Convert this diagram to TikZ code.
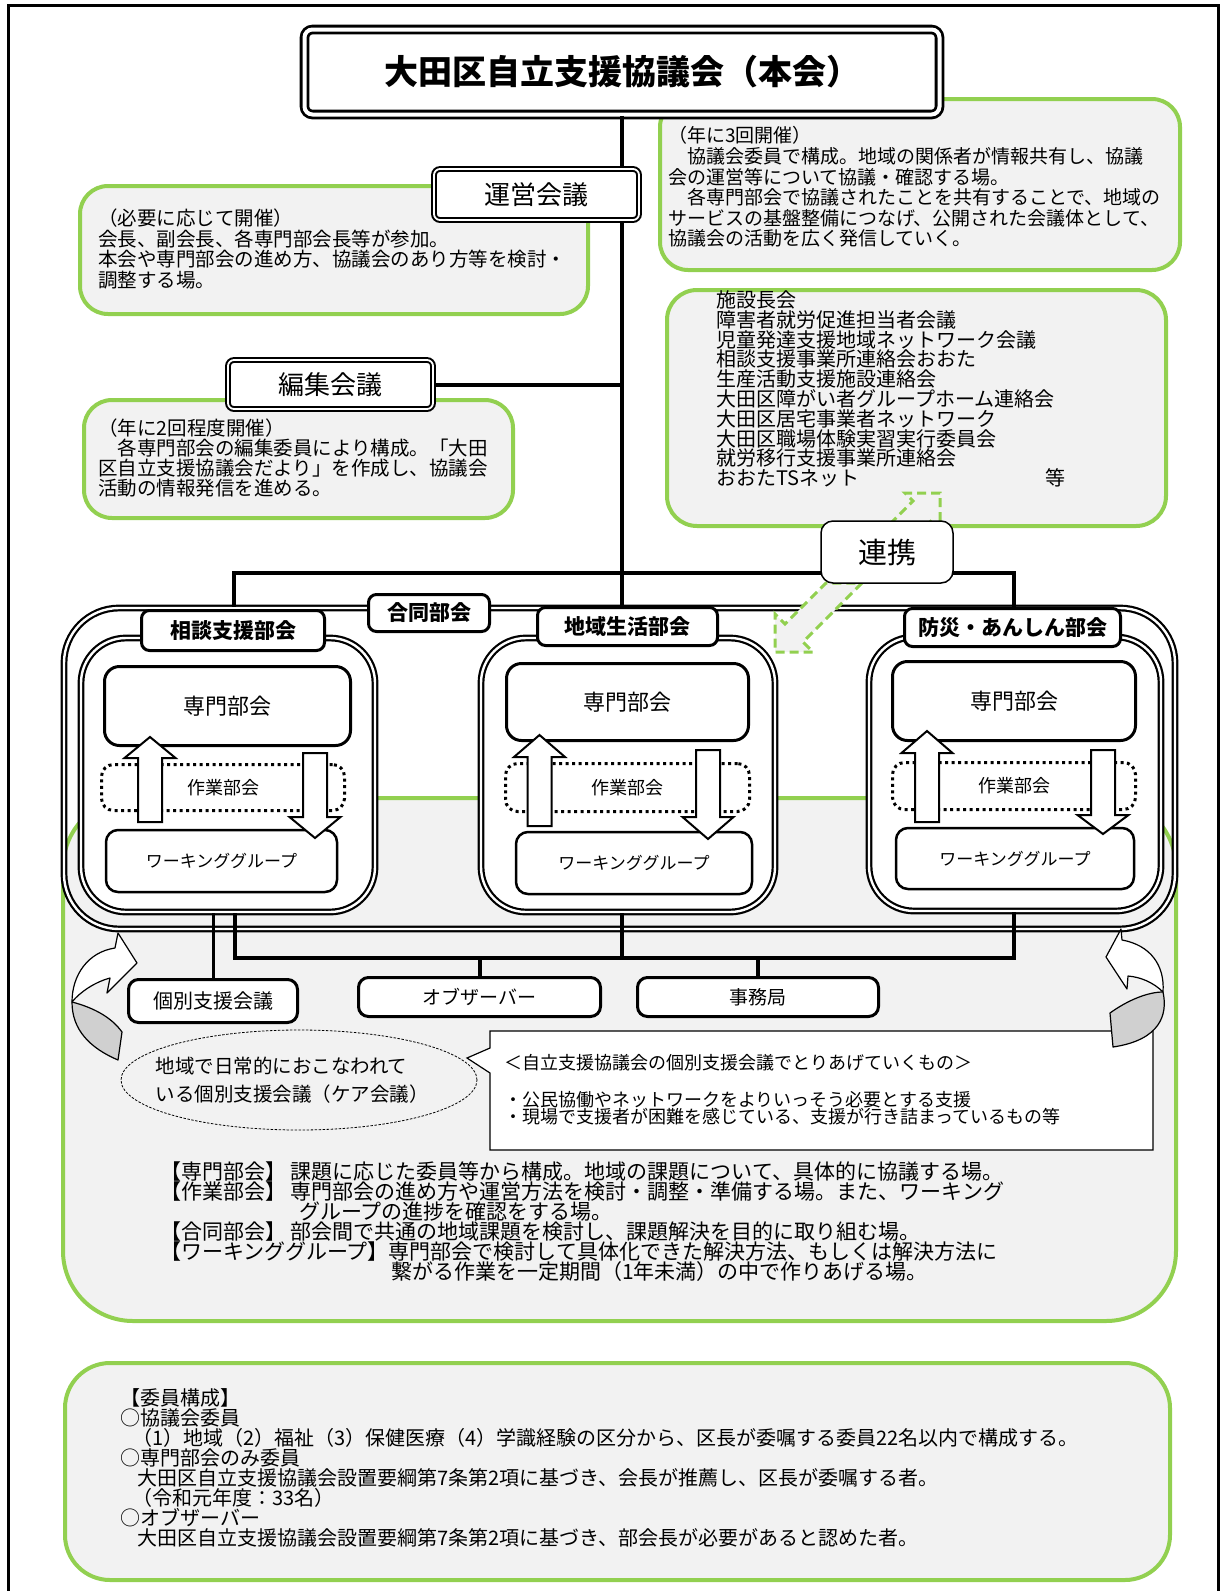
\documentclass[tikz,border=0pt]{standalone}
\usepackage{fontspec}
\setmainfont{Noto Sans CJK JP}
\usetikzlibrary{shapes.geometric}
\definecolor{leafgreen}{HTML}{92D050}
\definecolor{notegray}{HTML}{F2F2F2}
\definecolor{twistgray}{HTML}{D0D0D0}
\newcommand{\fsz}[2]{\fontsize{#1pt}{#2pt}\selectfont}
\newcommand{\blockup}[4]{\draw[blockarrow] (#1-12,#4) -- (#1-12,#3) -- (#1-25.5,#3) -- (#1,#2) -- (#1+25.5,#3) -- (#1+12,#3) -- (#1+12,#4) -- cycle;}
\newcommand{\blockdown}[4]{\draw[blockarrow] (#1-12,#2) -- (#1-12,#3) -- (#1-25.5,#3) -- (#1,#4) -- (#1+25.5,#3) -- (#1+12,#3) -- (#1+12,#2) -- cycle;}

\tikzset{
    greenbox/.style={draw=leafgreen, line width=4pt, fill=notegray, rounded corners=28pt, inner sep=0pt},
    dblbox/.style={draw=black, line width=2pt, double=white, double distance=1.8pt, fill=white, rounded corners=6pt, inner sep=0pt},
    groupframe/.style={draw=black, line width=2.2pt, double=white, double distance=2.4pt, fill=white, rounded corners=45pt, inner sep=0pt},
    tabbox/.style={draw, line width=3pt, fill=white, rounded corners=8pt, inner sep=0pt, font=\fsz{21}{24}\bfseries},
    unitbox/.style={draw, line width=3pt, fill=white, rounded corners=15pt, inner sep=0pt, font=\fsz{22}{24}},
    dotbox/.style={draw, line width=3pt, dash pattern=on 3pt off 3.5pt, rounded corners=12pt, inner sep=0pt, font=\fsz{18}{20}},
    wgbox/.style={draw, line width=2.5pt, fill=white, rounded corners=12pt, inner sep=0pt, font=\fsz{17}{20}},
    lowbox/.style={draw, line width=3pt, fill=white, rounded corners=10pt, inner sep=0pt, font=\fsz{19}{22}},
    trunk/.style={line width=4pt},
    blockarrow/.style={draw, line width=2pt, fill=white, line join=miter},
    linkarrow/.style={draw=leafgreen, line width=3pt, dash pattern=on 9pt off 5pt, fill=notegray},
    twist/.style={draw, line width=1.2pt, line join=round},
    notetext/.style={anchor=west, inner sep=0pt, align=left},
}

\begin{document}
\begin{tikzpicture}[x=1pt, y=-1pt]

            \useasboundingbox (0,0) rectangle (1223,1591);
            \draw[line width=3pt] (8,5) rectangle (1218,1600);

            % notes round the council
            \node[greenbox, minimum width=508pt, minimum height=128pt] (opsnote) at (334,250) {};
            \node[greenbox, minimum width=520pt, minimum height=171pt] (mainnote) at (920,184.5) {};
            \node[greenbox, minimum width=429pt, minimum height=118pt] (editnote) at (298.5,459) {};
            \node[greenbox, minimum width=499pt, minimum height=236pt, rounded corners=30pt] (linkbox) at (916.5,408) {};
            \node[greenbox, minimum width=1113pt, minimum height=523pt, rounded corners=70pt] (termbox) at (619.5,1059.5) {};
            \node[greenbox, minimum width=1105pt, minimum height=217pt, rounded corners=45pt] (memberbox) at (617.5,1471.5) {};

            \node[notetext, font=\fsz{19.5}{20.5}] (opstext) at (98,249) {（必要に応じて開催）\\会長、副会長、各専門部会長等が参加。\\本会や専門部会の進め方、協議会のあり方等を検討・\\調整する場。};
            \node[notetext, font=\fsz{19}{20.6}] (maintext) at (668,187) {（年に3回開催）\\　協議会委員で構成。地域の関係者が情報共有し、協議\\会の運営等について協議・確認する場。\\　各専門部会で協議されたことを共有することで、地域の\\サービスの基盤整備につなげ、公開された会議体として、\\協議会の活動を広く発信していく。};
            \node[notetext, font=\fsz{19.5}{20.3}] (edittext) at (98,458) {（年に2回程度開催）\\　各専門部会の編集委員により構成。「大田\\区自立支援協議会だより」を作成し、協議会\\活動の情報発信を進める。};
            \node[notetext, font=\fsz{20}{19.8}] (linktext) at (716,389) {施設長会\\障害者就労促進担当者会議\\児童発達支援地域ネットワーク会議\\相談支援事業所連絡会おおた\\生産活動支援施設連絡会\\大田区障がい者グループホーム連絡会\\大田区居宅事業者ネットワーク\\大田区職場体験実習実行委員会\\就労移行支援事業所連絡会\\\makebox[329pt][l]{おおたTSネット}等};

            % council and its meetings
            \node[dblbox, line width=2.8pt, double distance=4pt, rounded corners=8pt, minimum width=635pt, minimum height=85pt, font=\fsz{34}{36}\bfseries] (honkai) at (622,72) {大田区自立支援協議会（本会）};
            \coordinate (trunkfoot) at (622,606);
            \draw[trunk] (honkai.south) -- (trunkfoot);
            \node[dblbox, minimum width=205pt, minimum height=51pt, font=\fsz{26}{28}] (unei) at (536.5,194.5) {運営会議};
            \node[dblbox, minimum width=205pt, minimum height=49pt, font=\fsz{26}{28}] (henshu) at (330.5,384.5) {編集会議};
            \draw[trunk] (henshu.east) -- (henshu.east -| honkai.south);

            % sections
            \node[groupframe, fill=none, minimum width=1111pt, minimum height=321pt, rounded corners=55pt] (bigframe) at (619.5,768.5) {};
            \coordinate (barL) at (234,573);
            \coordinate (barR) at (1014,573);
            \draw[trunk] (barL |- bigframe.north) -- (barL) -- (barR) -- (barR |- bigframe.north);
            \node[tabbox, minimum width=121pt, minimum height=37pt] (godotab) at (429,613) {合同部会};

            \node[groupframe, minimum width=294pt, minimum height=274pt] (sodan) at (228,775) {};
            \node[tabbox, minimum width=183pt, minimum height=40pt] (sodantab) at (233,630.5) {相談支援部会};
            \node[unitbox, minimum width=246pt, minimum height=79pt] (sodanunit) at (227.5,706) {専門部会};
            \node[dotbox, minimum width=243pt, minimum height=46pt] (sodanwork) at (223,787.5) {作業部会};
            \node[wgbox, minimum width=231pt, minimum height=62pt] (sodanwg) at (221.5,861) {ワーキンググループ};
            \blockup{150}{737}{758}{822}
            \blockdown{315}{753}{817}{838}

            \node[groupframe, minimum width=294pt, minimum height=274pt] (chiiki) at (628,775) {};
            \node[tabbox, minimum width=180pt, minimum height=38pt] (chiikitab) at (627.5,626.5) {地域生活部会};
            \node[unitbox, minimum width=242pt, minimum height=77pt] (chiikiunit) at (627.5,702) {専門部会};
            \node[dotbox, minimum width=244pt, minimum height=48pt] (chiikiwork) at (627.5,787.5) {作業部会};
            \node[wgbox, minimum width=236pt, minimum height=62pt] (chiikiwg) at (634,863) {ワーキンググループ};
            \blockup{539.5}{735}{757}{826}
            \blockdown{708}{750}{817}{839}

            \node[groupframe, minimum width=292pt, minimum height=274pt] (bosai) at (1015,774) {};
            \node[tabbox, minimum width=216pt, minimum height=38pt] (bosaitab) at (1012.5,627.5) {防災・あんしん部会};
            \node[unitbox, minimum width=243pt, minimum height=79pt] (bosaiunit) at (1014,701) {専門部会};
            \node[dotbox, minimum width=243pt, minimum height=47pt] (bosaiwork) at (1014,786) {作業部会};
            \node[wgbox, minimum width=238pt, minimum height=61pt] (bosaiwg) at (1015,858.5) {ワーキンググループ};
            \blockup{927}{731}{753}{822}
            \blockdown{1103}{750}{815}{834}

            % liaison
            \draw[linkarrow] (880,534) -- (913,501) -- (905,493) -- (940,493) -- (940,528) -- (932,520) -- (899,553) -- cycle;
            \draw[linkarrow] (862,583) -- (803,642) -- (813,652) -- (775,652) -- (775,614) -- (785,624) -- (826,583) -- cycle;
            \node[draw, line width=1.5pt, fill=white, rounded corners=12pt, inner sep=0pt, minimum width=132pt, minimum height=62pt, font=\fsz{29}{30}] (renkei) at (887,552) {連携};

            % lower part
            \node[lowbox, font=\fsz{20}{22}, minimum width=169pt, minimum height=43pt] (kobetsu) at (213,1001) {個別支援会議};
            \node[lowbox, minimum width=242pt, minimum height=39pt] (observer) at (479.5,997) {オブザーバー};
            \node[lowbox, minimum width=241pt, minimum height=39pt] (jimu) at (758,997) {事務局};
            \coordinate (lowL) at (235,958);
            \coordinate (lowR) at (1014,958);
            \draw[trunk] (lowL |- sodan.south) -- (lowL) -- (lowR) -- (lowR |- bosai.south);
            \draw[trunk] (chiiki.south -| honkai.south) -- (honkai.south |- lowL);
            \draw[line width=3pt] (kobetsu.north) -- (kobetsu.north |- sodan.south);
            \draw[trunk] (observer.north) -- (observer.north |- lowL);
            \draw[trunk] (jimu.north) -- (jimu.north |- lowL);

            \draw[line width=1.2pt, fill=white] (490,1031) -- (490,1048) -- (467,1058) -- (490,1073) -- (490,1150) -- (1153,1150) -- (1153,1031) -- cycle;
            \node[notetext, font=\fsz{18}{17}] (calltext) at (504,1090) {＜自立支援協議会の個別支援会議でとりあげていくもの＞\\[20pt]・公民協働やネットワークをよりいっそう必要とする支援\\・現場で支援者が困難を感じている、支援が行き詰まっているもの等};
            \node[draw, ellipse, line width=0.8pt, dash pattern=on 2.5pt off 1.5pt, inner sep=0pt, minimum width=356pt, minimum height=100pt] (careoval) at (299,1080) {};
            \node[align=left, inner sep=0pt, font=\fsz{19.5}{28}] (caretext) at (292,1080) {地域で日常的におこなわれて\\いる個別支援会議（ケア会議）};

            \draw[twist, fill=white] (118,933) -- (137,963) -- (107,993) -- (110,978) .. controls (95,982) and (80,992) .. (72,1002) .. controls (72,975) and (88,952) .. (115,948) -- cycle;
            \draw[twist, fill=twistgray] (72,1002) .. controls (95,1008) and (112,1018) .. (122,1032) -- (118,1060) .. controls (90,1048) and (72,1030) .. (72,1002) -- cycle;
            \draw[twist, fill=white] (1121,929) -- (1106,957) -- (1127,989) -- (1128,976) .. controls (1140,977) and (1153,982) .. (1163,992) .. controls (1165,965) and (1150,945) .. (1122,940) -- cycle;
            \draw[twist, fill=twistgray] (1110,1013) .. controls (1128,1000) and (1148,992) .. (1163,992) .. controls (1168,1015) and (1160,1040) .. (1113,1047) -- cycle;

            % explanations
            \node[notetext, font=\fsz{21}{20}] (termtext) at (160,1222) {【専門部会】~課題に応じた委員等から構成。地域の課題について、具体的に協議する場。\\【作業部会】~専門部会の進め方や運営方法を検討・調整・準備する場。また、ワーキング\\\hspace*{139pt}グループの進捗を確認をする場。\\【合同部会】~部会間で共通の地域課題を検討し、課題解決を目的に取り組む場。\\【ワーキンググループ】専門部会で検討して具体化できた解決方法、もしくは解決方法に\\\hspace*{231pt}繋がる作業を一定期間（1年未満）の中で作りあげる場。};
            \node[notetext, font=\fsz{20}{20}] (membertext) at (120,1468) {【委員構成】\\○協議会委員\\\hspace*{12pt}（1）地域（2）福祉（3）保健医療（4）学識経験の区分から、区長が委嘱する委員22名以内で構成する。\\○専門部会のみ委員\\\hspace*{17pt}大田区自立支援協議会設置要綱第7条第2項に基づき、会長が推薦し、区長が委嘱する者。\\\hspace*{12pt}（令和元年度：33名）\\○オブザーバー\\\hspace*{17pt}大田区自立支援協議会設置要綱第7条第2項に基づき、部会長が必要があると認めた者。};

\end{tikzpicture}
\end{document}
